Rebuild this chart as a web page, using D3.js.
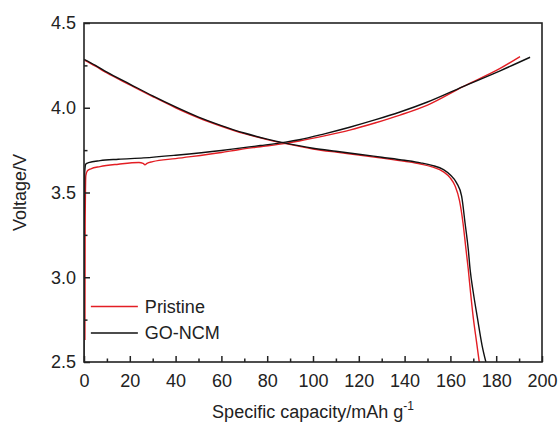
<!DOCTYPE html>
<html>
<head>
<meta charset="utf-8">
<script src="https://cdn.jsdelivr.net/npm/d3@7"></script>
<style>
  body { margin: 0; background: #fff; }
  svg text { font-family: Arial, "Liberation Sans", sans-serif; fill: #222; }
</style>
</head>
<body>
<div id="chart"></div>
<script>
// Data (capacity in mAh/g, voltage in V)
const pristineChargeCap = [0.4, 0.5, 0.8, 1.5, 3, 7, 15, 24, 25.8, 26.6, 27.5, 30, 40, 60, 68, 77, 88, 94, 105, 116, 127, 138, 150, 165.5, 181.7, 190.4];
const pristineChargeV   = [2.63, 3.3, 3.6, 3.628, 3.64, 3.653, 3.667, 3.677, 3.672, 3.664, 3.672, 3.682, 3.70, 3.736, 3.754, 3.77, 3.79, 3.804, 3.834, 3.868, 3.91, 3.957, 4.016, 4.125, 4.232, 4.302];

const goChargeCap = [0, 0.1, 0.3, 0.8, 2, 7, 15, 26, 40, 60, 68, 77, 88, 94, 105, 116, 127, 138, 150, 165.5, 181.7, 194.8];
const goChargeV   = [2.5, 3.3, 3.62, 3.668, 3.676, 3.688, 3.696, 3.704, 3.72, 3.748, 3.762, 3.777, 3.797, 3.811, 3.846, 3.885, 3.928, 3.975, 4.034, 4.125, 4.218, 4.298];

const pristineDischargeCap = [0, 5, 10, 20, 30, 40, 50, 60, 70, 80, 88, 100, 110, 120, 130, 140, 147, 152, 157, 160, 162, 164, 165.5, 166.8, 167.8, 168.8, 170, 171.4, 172.6];
const pristineDischargeV   = [4.282, 4.245, 4.205, 4.135, 4.066, 4.0, 3.941, 3.891, 3.847, 3.812, 3.788, 3.757, 3.738, 3.721, 3.703, 3.684, 3.668, 3.651, 3.622, 3.585, 3.54, 3.45, 3.32, 3.165, 3.047, 2.91, 2.76, 2.62, 2.5];

const goDischargeCap = [0, 5, 10, 20, 30, 40, 50, 60, 70, 80, 88, 100, 110, 120, 130, 140, 147, 152, 157, 160, 162.7, 164.9, 166.4, 167.8, 168.6, 170, 171.8, 173.8, 175.5];
const goDischargeV   = [4.286, 4.25, 4.21, 4.14, 4.07, 4.005, 3.945, 3.895, 3.851, 3.815, 3.791, 3.761, 3.743, 3.726, 3.708, 3.69, 3.675, 3.66, 3.635, 3.603, 3.557, 3.478, 3.32, 3.165, 3.047, 2.91, 2.76, 2.6, 2.5];

const xTicks = [0, 20, 40, 60, 80, 100, 120, 140, 160, 180, 200];
const xMinorTicks = [10, 30, 50, 70, 90, 110, 130, 150, 170, 190];
const yTicks = [2.5, 3.0, 3.5, 4.0, 4.5];
const yMinorTicks = [2.75, 3.25, 3.75, 4.25];

const seriesNames = ["Pristine", "GO-NCM"];
const seriesColors = ["#e31e24", "#111111"];

const W = 559, H = 428;
const margin = { top: 23, right: 17, bottom: 66, left: 84 };
const innerW = W - margin.left - margin.right;
const innerH = H - margin.top - margin.bottom;

const svg = d3.select("#chart").append("svg")
    .attr("width", W)
    .attr("height", H);

const g = svg.append("g")
    .attr("transform", `translate(${margin.left},${margin.top})`);

const x = d3.scaleLinear().domain([0, 200]).range([0, innerW]);
const y = d3.scaleLinear().domain([2.5, 4.5]).range([innerH, 0]);

const toPoints = (caps, vs) => caps.map((c, i) => [c, vs[i]]);

const line = d3.line()
    .x(d => x(d[0]))
    .y(d => y(d[1]))
    .curve(d3.curveMonotoneX);

const curves = [
    { pts: toPoints(pristineDischargeCap, pristineDischargeV), color: seriesColors[0] },
    { pts: toPoints(pristineChargeCap, pristineChargeV), color: seriesColors[0] },
    { pts: toPoints(goDischargeCap, goDischargeV), color: seriesColors[1] },
    { pts: toPoints(goChargeCap, goChargeV), color: seriesColors[1] }
];

g.append("clipPath").attr("id", "clip")
    .append("rect").attr("width", innerW).attr("height", innerH);

g.append("g").attr("clip-path", "url(#clip)")
    .selectAll("path")
    .data(curves)
    .enter()
    .append("path")
    .attr("fill", "none")
    .attr("stroke", d => d.color)
    .attr("stroke-width", 1.4)
    .attr("d", d => line(d.pts));

// ticks, pointing inward
const xAxis = g.append("g")
    .attr("transform", `translate(0,${innerH})`)
    .call(d3.axisBottom(x).tickValues(xTicks).tickSizeInner(-6).tickSizeOuter(0).tickPadding(12).tickFormat(d3.format("d")));
g.append("g")
    .attr("transform", `translate(0,${innerH})`)
    .call(d3.axisBottom(x).tickValues(xMinorTicks).tickSizeInner(-3.5).tickSizeOuter(0).tickFormat(""));

const yAxis = g.append("g")
    .call(d3.axisLeft(y).tickValues(yTicks).tickSizeInner(-6).tickSizeOuter(0).tickPadding(8).tickFormat(d3.format(".1f")));
g.append("g")
    .call(d3.axisLeft(y).tickValues(yMinorTicks).tickSizeInner(-3.5).tickSizeOuter(0).tickFormat(""));

g.selectAll(".domain").remove();
g.selectAll(".tick line").attr("stroke", "#222").attr("stroke-width", 1.5);
g.selectAll(".tick text").style("font-size", "18px").attr("fill", "#222");

// frame
g.append("rect")
    .attr("width", innerW)
    .attr("height", innerH)
    .attr("fill", "none")
    .attr("stroke", "#222")
    .attr("stroke-width", 1.6);

// axis titles
const xTitle = svg.append("text")
    .attr("x", margin.left + innerW / 2)
    .attr("y", 418)
    .attr("text-anchor", "middle")
    .style("font-size", "18px");
xTitle.append("tspan").text("Specific capacity/mAh g");
xTitle.append("tspan").attr("dy", -8).style("font-size", "12px").text("-1");

svg.append("text")
    .attr("transform", `translate(26,${margin.top + innerH / 2}) rotate(-90)`)
    .attr("text-anchor", "middle")
    .style("font-size", "18px")
    .text("Voltage/V");

// legend
const legend = g.append("g")
    .attr("transform", `translate(${x(3)},${y(2.828)})`);
seriesNames.forEach((name, i) => {
    const row = legend.append("g").attr("transform", `translate(0,${i * 26.5})`);
    row.append("line")
        .attr("x1", 0).attr("x2", 47)
        .attr("stroke", seriesColors[i])
        .attr("stroke-width", 1.5);
    row.append("text")
        .attr("x", 54)
        .attr("dy", "0.35em")
        .style("font-size", "18px")
        .text(name);
});
</script>
</body>
</html>
